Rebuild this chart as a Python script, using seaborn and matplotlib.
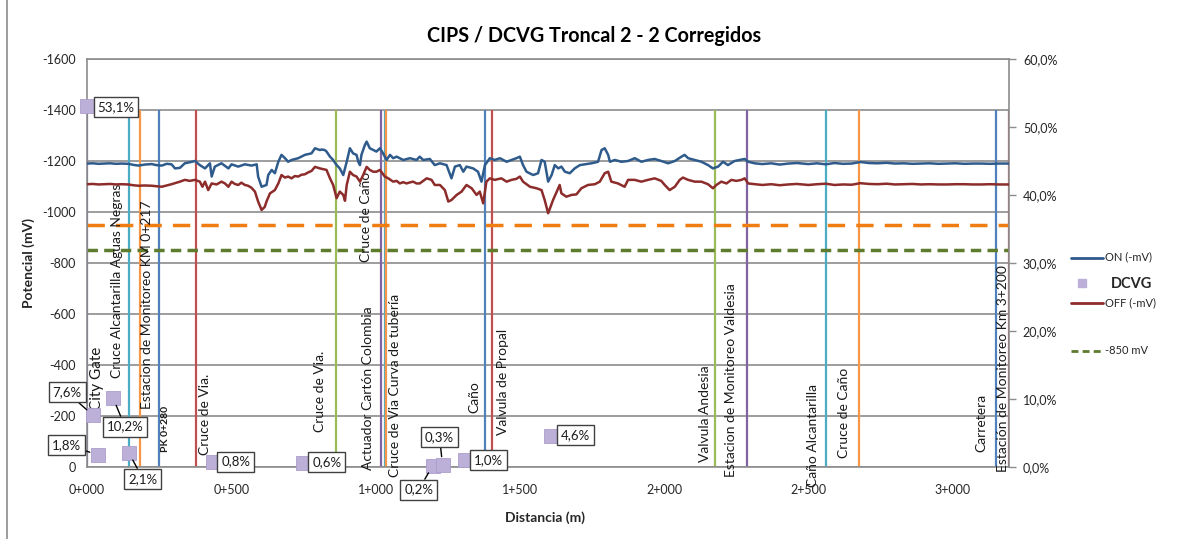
import numpy as np
import pandas as pd
import matplotlib
matplotlib.use("Agg")
import matplotlib.pyplot as plt
import seaborn as sns
from matplotlib.lines import Line2D
from matplotlib.ticker import FuncFormatter

# ---------------- data ----------------
# CIPS readings: distance along the pipeline (m) and potential magnitude (mV)
dist_on = [0, 20, 40, 60, 80, 100, 120, 143, 160, 178, 200, 224, 240, 259, 276, 293, 305, 322, 339, 356,
           374, 391, 409, 426, 432, 443, 466, 490, 501, 524, 547, 570, 588, 593, 605, 622, 628, 640, 651, 663,
           674, 686, 697, 709, 732, 755, 778, 790, 807, 813, 824, 830, 842, 853, 865, 876, 888, 900, 911, 922,
           934, 940, 946, 951, 963, 969, 980, 992, 1003, 1015, 1026, 1038, 1050, 1061, 1073, 1096, 1119, 1142, 1153, 1165,
           1188, 1205, 1223, 1246, 1263, 1275, 1292, 1304, 1315, 1338, 1355, 1367, 1379, 1396, 1413, 1431, 1454, 1471, 1488, 1500,
           1511, 1523, 1546, 1563, 1575, 1586, 1598, 1610, 1621, 1633, 1644, 1656, 1673, 1690, 1708, 1725, 1748, 1771, 1783, 1794,
           1806, 1812, 1829, 1852, 1875, 1898, 1921, 1944, 1967, 1990, 2014, 2037, 2060, 2071, 2083, 2106, 2129, 2152, 2169, 2187,
           2204, 2221, 2244, 2279, 2291, 2314, 2340, 2371, 2400, 2430, 2460, 2500, 2530, 2560, 2590, 2620, 2650, 2680, 2710, 2740,
           2770, 2800, 2830, 2860, 2890, 2920, 2950, 2980, 3010, 3040, 3070, 3100, 3130, 3160, 3195]
on_mv = [1190, 1191, 1189, 1190, 1191, 1189, 1190, 1189, 1185, 1182, 1186, 1188, 1184, 1182, 1189, 1187, 1171, 1173, 1191, 1195,
         1200, 1184, 1171, 1191, 1139, 1178, 1191, 1171, 1187, 1178, 1187, 1182, 1187, 1139, 1099, 1106, 1145, 1165, 1152, 1197,
         1224, 1211, 1197, 1204, 1211, 1224, 1230, 1250, 1243, 1245, 1243, 1237, 1217, 1204, 1184, 1171, 1145, 1197, 1250, 1230,
         1224, 1197, 1184, 1224, 1263, 1276, 1250, 1243, 1237, 1250, 1230, 1204, 1224, 1211, 1217, 1204, 1211, 1204, 1217, 1204,
         1208, 1184, 1191, 1184, 1132, 1178, 1184, 1158, 1178, 1171, 1158, 1119, 1184, 1211, 1204, 1211, 1197, 1204, 1211, 1217,
         1184, 1158, 1145, 1152, 1204, 1197, 1119, 1145, 1184, 1171, 1178, 1158, 1152, 1171, 1184, 1187, 1191, 1197, 1243, 1250,
         1224, 1197, 1204, 1197, 1200, 1211, 1197, 1204, 1208, 1200, 1191, 1200, 1217, 1224, 1211, 1204, 1197, 1184, 1171, 1178,
         1197, 1184, 1200, 1208, 1197, 1191, 1188, 1191, 1186, 1190, 1192, 1188, 1191, 1187, 1192, 1189, 1190, 1196, 1192, 1191,
         1193, 1190, 1191, 1189, 1190, 1191, 1189, 1190, 1191, 1189, 1190, 1190, 1189, 1190, 1190]

dist_off = [0, 20, 40, 60, 80, 100, 120, 143, 160, 178, 200, 224, 240, 259, 276, 293, 305, 322, 339, 356,
            374, 391, 400, 409, 420, 432, 449, 466, 478, 490, 501, 512, 524, 535, 547, 558, 570, 582, 593, 605,
            616, 622, 634, 651, 663, 674, 686, 697, 709, 720, 732, 743, 755, 766, 778, 790, 807, 818, 830, 842,
            853, 865, 876, 888, 894, 900, 911, 922, 934, 946, 957, 969, 980, 992, 1003, 1015, 1032, 1044, 1061, 1073,
            1084, 1096, 1107, 1119, 1130, 1142, 1153, 1165, 1177, 1194, 1205, 1223, 1240, 1252, 1263, 1281, 1298, 1315, 1333, 1350,
            1361, 1373, 1384, 1396, 1413, 1436, 1454, 1471, 1488, 1500, 1511, 1535, 1558, 1575, 1586, 1598, 1615, 1638, 1644, 1661,
            1679, 1696, 1713, 1736, 1760, 1777, 1794, 1806, 1817, 1840, 1863, 1875, 1898, 1921, 1944, 1967, 1990, 2002, 2019, 2037,
            2054, 2065, 2083, 2106, 2129, 2152, 2169, 2181, 2198, 2216, 2233, 2250, 2268, 2279, 2291, 2314, 2340, 2371, 2400, 2430,
            2460, 2500, 2530, 2560, 2590, 2620, 2650, 2680, 2710, 2740, 2770, 2800, 2830, 2860, 2890, 2920, 2950, 2980, 3010, 3040,
            3070, 3100, 3130, 3160, 3195]
off_mv = [1109, 1110, 1108, 1109, 1110, 1108, 1109, 1108, 1105, 1103, 1104, 1103, 1101, 1099, 1104, 1109, 1113, 1119, 1126, 1122,
          1126, 1119, 1099, 1119, 1086, 1112, 1108, 1119, 1112, 1099, 1119, 1110, 1106, 1115, 1106, 1103, 1095, 1080, 1041, 1008,
          1020, 1041, 1073, 1086, 1112, 1145, 1135, 1139, 1132, 1141, 1139, 1146, 1148, 1155, 1161, 1177, 1171, 1168, 1165, 1132,
          1106, 1054, 1080, 1067, 1044, 1106, 1158, 1145, 1139, 1119, 1145, 1177, 1165, 1158, 1158, 1165, 1139, 1132, 1119, 1122,
          1112, 1117, 1112, 1116, 1119, 1112, 1112, 1122, 1132, 1126, 1106, 1106, 1086, 1041, 1047, 1067, 1080, 1106, 1093, 1067,
          1080, 1034, 1119, 1132, 1126, 1132, 1119, 1126, 1130, 1139, 1119, 1099, 1093, 1086, 1047, 995, 1047, 1106, 1073, 1060,
          1067, 1069, 1093, 1106, 1109, 1119, 1152, 1158, 1119, 1112, 1099, 1126, 1126, 1119, 1126, 1132, 1122, 1106, 1086, 1099,
          1126, 1135, 1126, 1119, 1119, 1109, 1093, 1106, 1119, 1112, 1126, 1122, 1126, 1132, 1112, 1109, 1106, 1109, 1105, 1108,
          1110, 1106, 1109, 1111, 1106, 1108, 1107, 1113, 1110, 1109, 1111, 1108, 1109, 1110, 1108, 1109, 1108, 1108, 1109, 1109,
          1108, 1108, 1109, 1108, 1108]

# DCVG indications: distance (m) and severity (%IR)
dcvg_dist = [0, 21, 37, 90, 145, 436, 748, 1198, 1232, 1309, 1609]
dcvg_pct = [53.1, 7.6, 1.8, 10.2, 2.1, 0.8, 0.6, 0.2, 0.3, 1.0, 4.6]

# reference points along the route
marker_dist = [0, 144, 184, 250, 378, 864, 1018, 1032, 1037, 1378, 1402, 2176, 2288, 2560, 2676, 3151, 3195]
marker_names = ["City Gate", "Cruce Alcantarilla Aguas Negras", "Estacion de Monitoreo KM 0+217", "PK 0+280",
                "Cruce de Via.", "Cruce de Via.", "Actuador Cartón Colombia", "Cruce de Caño",
                "Cruce de Via Curva de tubería", "Caño", "Valvula de Propal", "Valvula Andesia",
                "Estacion de Monitoreo Valdesia", "Caño Alcantarilla", "Cruce de Caño", "Carretera",
                "Estación de Monitoreo Km 3+200"]

criterion_950 = -950
criterion_850 = -850

# x tick positions (m)
x_ticks = [0, 500, 1000, 1500, 2000, 2500, 3000]

# ---------------- styling ----------------
sns.set_style("white")
plt.rcParams["font.family"] = ["Lato", "DejaVu Sans"]
plt.rcParams["axes.unicode_minus"] = False

W, H = 1181, 539
fig = plt.figure(figsize=(W / 100, H / 100), dpi=100)
L, R, T, B = 87, 1009, 59, 467
ax = fig.add_axes([L / W, 1 - B / H, (R - L) / W, (B - T) / H])

GRID = "#8c8c8c"
C_ON = "#2f5b8c"
C_OFF = "#8c2c2b"
C_DCVG = "#bcb0d8"
seq = ["#8064a2", "#4bacc6", "#f79646", "#4f81bd", "#c0504d", "#9bbb59"]
marker_colors = [seq[i % 6] for i in range(len(marker_dist))]

# label placement for each reference point: horizontal offset (px) and text base (axis units)
label_dx = [10, -12, 7, 6, 9, -16, -13, -19, 9, -10, 11, -10, -16, -13, -15, -15, -6]
label_base = [-224, -349, -227, -59, -47, -137, 12, -804, 39, -212, -125, -20, 39, 78, -35, -59, 20]
label_size = [11, 10, 10, 7.5, 10, 10, 10, 10, 10, 10, 10, 10, 10, 10, 10, 10, 10]

# axes frame and grid
ax.set_xlim(0, 3195)
ax.set_ylim(0, -1600)
ax.set_yticks(list(range(0, -1601, -200)))
ax.set_xticks(x_ticks)
ax.xaxis.set_major_formatter(FuncFormatter(lambda v, p: f"{int(v) // 1000}+{int(v) % 1000:03d}"))
ax.yaxis.set_major_formatter(FuncFormatter(lambda v, p: f"{int(v)}"))
ax.grid(axis="y", color=GRID, lw=1.2)
ax.grid(axis="x", visible=False)
for s in ax.spines.values():
    s.set_color(GRID)
    s.set_linewidth(1.2)
ax.tick_params(axis="both", length=0, labelsize=9, colors="#262626")
ax.tick_params(axis="y", pad=8)
ax.tick_params(axis="x", pad=12)

# reference point verticals
ax.vlines(marker_dist, -1400, 0, colors=marker_colors, lw=1.6, zorder=2)
for d, name, dx, base, fs in zip(marker_dist, marker_names, label_dx, label_base, label_size):
    ax.annotate(name, xy=(d, base), xytext=(dx, 0), textcoords="offset pixels",
                rotation=90, ha="center", va="bottom", fontsize=fs,
                fontweight="bold" if fs < 9 else "normal", color="#1a1a1a",
                annotation_clip=False, zorder=3)

# protection criteria
ax.axhline(criterion_950, color="#f07d12", lw=2.5, dashes=(5, 3.2), zorder=2)
ax.axhline(criterion_850, color="#5e7b2e", lw=2.5, dashes=(3, 1.8), zorder=2)

# CIPS ON / OFF profiles
df_on = pd.DataFrame({"dist": dist_on, "pot": -np.array(on_mv)})
df_off = pd.DataFrame({"dist": dist_off, "pot": -np.array(off_mv)})
sns.lineplot(data=df_on, x="dist", y="pot", ax=ax, color=C_ON, lw=1.8, estimator=None, sort=False, zorder=4)
sns.lineplot(data=df_off, x="dist", y="pot", ax=ax, color=C_OFF, lw=1.8, estimator=None, sort=False, zorder=4)

ax.set_xlabel("Distancia (m)", fontsize=10, fontweight="bold")
ax.set_ylabel("Potencial (mV)", fontsize=10, fontweight="bold")
ax.xaxis.set_label_coords((545 - L) / (R - L), (B - 511) / (B - T))
ax.yaxis.set_label_coords((35 - L) / (R - L), 0.5)

# DCVG on the secondary axis
ax2 = ax.twinx()
ax2.set_ylim(0, 60)
ax2.set_yticks(list(range(0, 61, 10)))
ax2.yaxis.set_major_formatter(FuncFormatter(lambda v, p: f"{v:.1f}%".replace(".", ",")))
ax2.tick_params(axis="y", direction="out", length=5, width=1, color=GRID, labelsize=9,
                labelcolor="#262626", pad=5)
for s in ax2.spines.values():
    s.set_visible(False)
df_dcvg = pd.DataFrame({"dist": dcvg_dist, "pct": dcvg_pct})
sns.scatterplot(data=df_dcvg, x="dist", y="pct", ax=ax2, marker="s", s=115, color=C_DCVG,
                edgecolor="#ab9ecd", linewidth=0.6, zorder=5, clip_on=False)
ax2.set_xlabel("")
ax2.set_ylabel("")
ax2.set_xlim(0, 3195)

# value labels for the DCVG points (offsets in px)
dcvg_off = [(29, -1), (-26, 23), (-31, 10), (12, -29), (14, -26), (23, 0), (24, 1), (-14, -24), (-3, 28), (24, 0), (24, 1)]
dcvg_leader = [False, True, True, True, True, False, False, True, True, False, False]
for d, p, (ox, oy), lead in zip(dcvg_dist, dcvg_pct, dcvg_off, dcvg_leader):
    txt = f"{p:.1f}%".replace(".", ",")
    ax2.annotate(txt, xy=(d, p), xytext=(ox, oy), textcoords="offset pixels",
                 ha="center", va="center", fontsize=9.5, color="#1a1a1a",
                 bbox=dict(boxstyle="square,pad=0.3", fc="white", ec="#404040", lw=1),
                 arrowprops=dict(arrowstyle="-", color="black", lw=1, shrinkA=0, shrinkB=6) if lead else None,
                 annotation_clip=False, zorder=6)

# title
fig.text(594 / W, 1 - 36 / H, "CIPS / DCVG Troncal 2 - 2 Corregidos", ha="center", va="center",
         fontsize=14.2, fontweight="bold", color="black")

# legend
def fx(x):
    return x / W

def fy(y):
    return 1 - y / H

fig.add_artist(Line2D([fx(1071), fx(1103)], [fy(258)] * 2, color=C_ON, lw=2))
fig.text(fx(1105), fy(257), "ON (-mV)", fontsize=8, va="center", ha="left", color="#262626")
fig.add_artist(Line2D([fx(1082)], [fy(283)], marker="s", markersize=6, color=C_DCVG, lw=0))
fig.text(fx(1111), fy(284), "DCVG", fontsize=10.5, fontweight="bold", va="center", ha="left", color="#262626")
fig.add_artist(Line2D([fx(1071), fx(1103)], [fy(303)] * 2, color=C_OFF, lw=2))
fig.text(fx(1105), fy(303), "OFF (-mV)", fontsize=8, va="center", ha="left", color="#262626")
fig.add_artist(Line2D([fx(1071), fx(1103)], [fy(351)] * 2, color="#5e7b2e", lw=2, dashes=(2.5, 1.5)))
fig.text(fx(1105), fy(350), "-850 mV", fontsize=8, va="center", ha="left", color="#262626")

# chart area border
fig.add_artist(Line2D([fx(7), fx(7)], [0, 1], color=GRID, lw=1.2))

fig.savefig("out.png", dpi=100)
